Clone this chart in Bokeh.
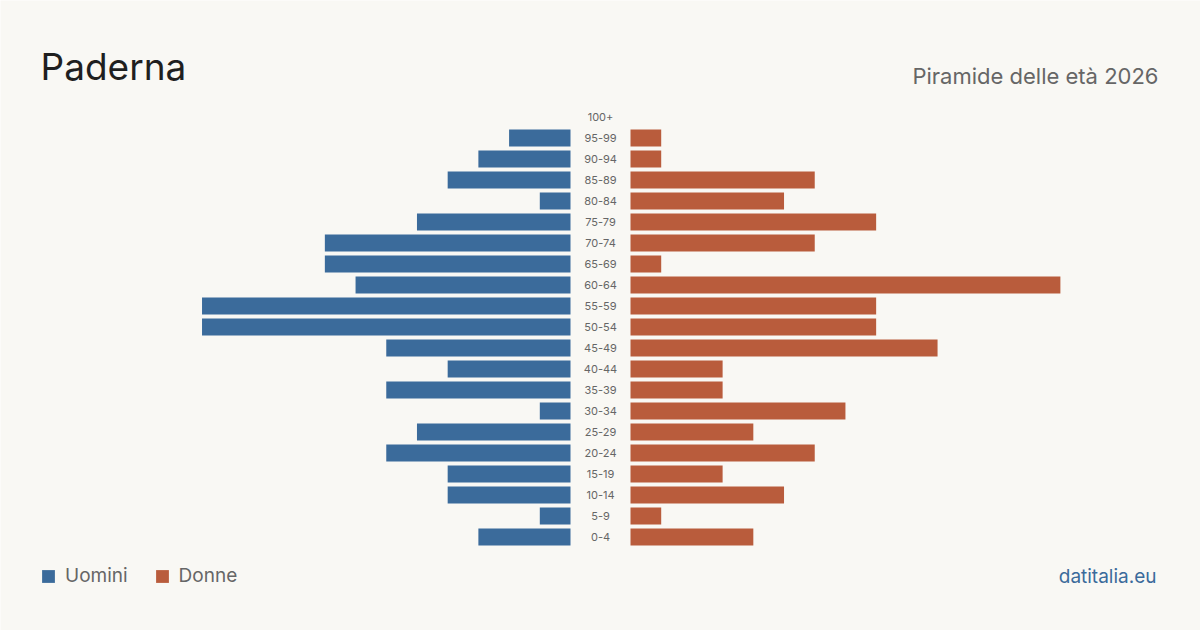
from bokeh.plotting import figure
from bokeh.models import Range1d, Label, Legend, LegendItem, ColumnDataSource
from bokeh.core.properties import value
from bokeh.embed import file_html
from bokeh.resources import INLINE

# ---- data ----
age_groups = ["0-4", "5-9", "10-14", "15-19", "20-24", "25-29", "30-34", "35-39",
              "40-44", "45-49", "50-54", "55-59", "60-64", "65-69", "70-74", "75-79",
              "80-84", "85-89", "90-94", "95-99", "100+"]
uomini = [3, 1, 4, 4, 6, 5, 1, 6, 4, 6, 12, 12, 7, 8, 8, 5, 1, 4, 3, 2, 0]
donne = [4, 1, 5, 3, 6, 4, 7, 3, 3, 10, 8, 8, 14, 1, 6, 8, 5, 6, 1, 1, 0]

title_text = "Paderna"
subtitle_text = "Piramide delle età 2026"
source_text = "datitalia.eu"

BG = "#f9f8f4"
BLUE = "#3b6b9b"
ORANGE = "#b95c3c"
FONT = "Inter"

HALF_GAP = 0.977  # half of the central label column, in data units

idx = list(range(len(age_groups)))
src = ColumnDataSource(dict(
    y=idx,
    label=age_groups,
    m_left=[-HALF_GAP - v for v in uomini],
    m_right=[-HALF_GAP] * len(idx),
    f_left=[HALF_GAP] * len(idx),
    f_right=[HALF_GAP + v for v in donne],
))

p = figure(width=1200, height=630, output_backend="svg", toolbar_location=None,
           x_range=Range1d(-19.54, 19.54), y_range=Range1d(-4.452, 25.548),
           min_border=0, outline_line_color=None,
           background_fill_color=BG, border_fill_color=BG)
p.axis.visible = False
p.xaxis.visible = False
p.yaxis.visible = False
p.grid.visible = False

r_m = p.hbar(y="y", left="m_left", right="m_right", height=0.81, source=src,
             fill_color=BLUE, line_color=None)
r_f = p.hbar(y="y", left="f_left", right="f_right", height=0.81, source=src,
             fill_color=ORANGE, line_color=None)

p.text(x=0, y="y", text="label", source=src, text_align="center",
       text_baseline="middle", text_font=value(FONT), text_font_size="11px",
       text_color="#666666")

p.add_layout(Label(x=40, y=564, x_units="screen", y_units="screen", text=title_text,
                   text_font=FONT, text_font_size="37px", text_color="#1f1f1f",
                   text_baseline="alphabetic"))
p.add_layout(Label(x=1158, y=555, x_units="screen", y_units="screen", text=subtitle_text,
                   text_font=FONT, text_font_size="22px", text_color="#666666",
                   text_align="right", text_baseline="alphabetic"))
p.add_layout(Label(x=1156, y=54, x_units="screen", y_units="screen", text=source_text,
                   text_font=FONT, text_font_size="19px", text_color=BLUE,
                   text_align="right", text_baseline="alphabetic"))

legend = Legend(items=[LegendItem(label="Uomini", renderers=[r_m]),
                       LegendItem(label="Donne", renderers=[r_f])],
                orientation="horizontal", location=(40, 43),
                glyph_width=16, glyph_height=16, label_height=16,
                label_standoff=9, spacing=26, padding=0, margin=0,
                label_text_font=FONT, label_text_font_size="19px",
                label_text_color="#666666", background_fill_alpha=0,
                border_line_color=None)
p.add_layout(legend)

open("out.html", "w").write(file_html(p, INLINE))
